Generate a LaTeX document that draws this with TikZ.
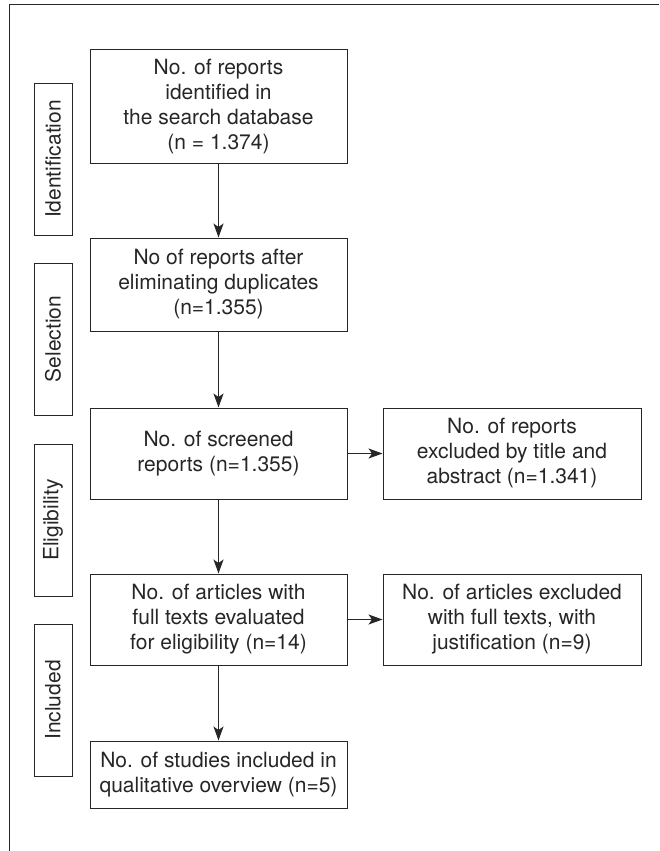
\documentclass[tikz,border=0pt]{standalone}
\usepackage{fontspec}
\setmainfont{TeX Gyre Heros}
\usetikzlibrary{arrows.meta}
\begin{document}
\begin{tikzpicture}[x=1pt,y=1pt,
  ln/.style={draw=black!85, line width=1pt},
  box/.style={ln, rectangle, inner sep=0pt, align=center, font=\fontsize{21}{25}\selectfont, text=black!85},
  side/.style={ln, rectangle, inner sep=0pt, rotate=90, font=\fontsize{21}{25}\selectfont, text=black!85},
  arr/.style={ln, -{Stealth[length=14pt,width=10pt,inset=3.5pt]}}]
\useasboundingbox (0,0) rectangle (659,-851);
% outer frame (top and left only)
\draw[ln] (9,-851) -- (9,-5) -- (659,-5);
% main boxes
\node[box, minimum width=257pt, minimum height=113pt] (b1) at (218.5,-106.5) {No. of reports\\identified in\\the search database\\(n = 1.374)};
\node[box, minimum width=257pt, minimum height=93pt] (b2) at (218.5,-284.5) {No of reports after\\eliminating duplicates\\(n=1.355)};
\node[box, minimum width=257pt, minimum height=91pt] (b3) at (218.5,-453.5) {No. of screened\\reports (n=1.355)};
\node[box, minimum width=257pt, minimum height=91pt] (b4) at (218.5,-619.5) {No. of articles with\\full texts evaluated\\for eligibility (n=14)};
\node[box, minimum width=257pt, minimum height=67pt] (b5) at (218.5,-774.5) {No. of studies included in\\qualitative overview (n=5)};
\node[box, minimum width=258pt, minimum height=91pt] (r3) at (512,-453.5) {No. of reports\\excluded by title and\\abstract (n=1.341)};
\node[box, minimum width=258pt, minimum height=91pt] (r4) at (512,-619.5) {No. of articles excluded\\with full texts, with\\justification (n=9)};
% side labels
\node[side, minimum width=152pt, minimum height=38pt] (s1) at (53,-159) {Identification};
\node[side, minimum width=152pt, minimum height=38pt] (s2) at (53,-339) {Selection};
\node[side, minimum width=152pt, minimum height=38pt] (s3) at (53,-520) {Eligibility};
\node[side, minimum width=152pt, minimum height=38pt] (s4) at (53,-700) {Included};
% arrows
\draw[arr] (b1) -- (b2);
\draw[arr] (b2) -- (b3);
\draw[arr] (b3) -- (b4);
\draw[arr] (b4) -- (b5);
\draw[arr] (b3) -- (r3);
\draw[arr] (b4) -- (r4);
\end{tikzpicture}
\end{document}
